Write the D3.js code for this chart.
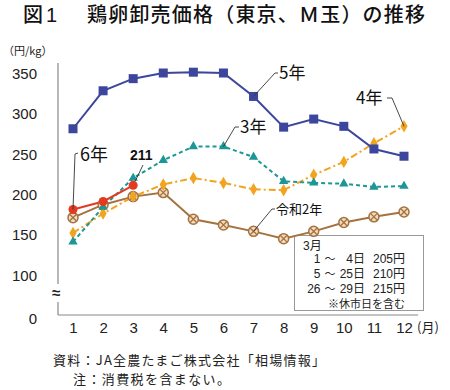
<!DOCTYPE html>
<html><head><meta charset="utf-8">
<script src="https://cdn.jsdelivr.net/npm/d3@7"></script>
<style>
body{margin:0;background:#fff;}
svg{font-family:"Liberation Sans","Noto Sans CJK JP",sans-serif;}
</style></head>
<body><svg id="c" width="450" height="390"></svg>
<script>
const months = [1,2,3,4,5,6,7,8,9,10,11,12];
const yTicks = [0,100,150,200,250,300,350];
const r2 = [171,187,197,202,169,162,154,145,154,165,172,178];
const r3 = [141,184,220,242,259,259,246,216,214,213,209,210];
const r4 = [152,176,197,212,220,214,206,205,224,240,263,284];
const r5 = [281,328,343,350,351,350,321,283,293,284,256,247];
const r6 = [181,191,211];
const boxLines = [["1","～","4日","205円"],["5","～","25日","210円"],["26","～","29日","215円"]];

const svg = d3.select("#c");
const x = d3.scaleLinear().domain([1,12]).range([73,404]);
const y = d3.scaleLinear().domain([0,100,350]).range([315,275,73]);

// title
svg.append("text").attr("x",23).attr("y",22).attr("font-size",20).attr("font-weight",500)
  .attr("font-family","Noto Sans CJK JP").attr("fill","#111").text("図");
svg.append("text").attr("x",46).attr("y",22).attr("font-size",20).attr("font-weight",500)
  .attr("font-family","Liberation Sans").attr("fill","#111").text("1");
svg.append("text").attr("x",87).attr("y",22).attr("font-size",20).attr("font-weight",500)
  .attr("font-family","Noto Sans CJK JP").attr("fill","#111").attr("textLength",338)
  .text("鶏卵卸売価格（東京、Ｍ玉）の推移");
svg.append("text").attr("x",3).attr("y",55).attr("font-size",11).attr("font-family","Noto Sans CJK JP").attr("fill","#222").text("（円/kg）");

// axes
const axC = "#888";
const ya = svg.append("g").attr("transform","translate(58,0)")
  .call(d3.axisLeft(y).tickValues(yTicks).tickSize(0).tickPadding(21));
ya.select(".domain").remove();
ya.selectAll("text").attr("font-size",15).attr("fill","#222").attr("font-family","Liberation Sans").attr("dy","0.35em");
ya.selectAll(".tick").filter(d=>d===0).select("text").attr("dy","0.55em");
svg.append("line").attr("x1",58).attr("x2",58).attr("y1",63).attr("y2",284).attr("stroke",axC).attr("stroke-width",1.2);
svg.append("line").attr("x1",58).attr("x2",58).attr("y1",302).attr("y2",315).attr("stroke",axC).attr("stroke-width",1.2);
svg.append("text").attr("x",56).attr("y",298).attr("text-anchor","middle").attr("font-size",15).attr("font-weight","bold").attr("fill","#222").text("≈");

const xa = svg.append("g").attr("transform","translate(0,315)")
  .call(d3.axisBottom(x).tickValues(months).tickSize(0).tickPadding(7).tickFormat(d3.format("d")));
xa.select(".domain").remove();
xa.selectAll("text").attr("font-size",15).attr("fill","#222").attr("font-family","Liberation Sans");
svg.append("line").attr("x1",58).attr("x2",418).attr("y1",315).attr("y2",315).attr("stroke",axC).attr("stroke-width",1.2);
svg.append("text").attr("x",417).attr("y",332).attr("font-size",13).attr("font-family","Noto Sans CJK JP").attr("fill","#222").text("(月)");

// note box
const bx = svg.append("g");
bx.append("rect").attr("x",294.5).attr("y",235.5).attr("width",129).attr("height",75).attr("fill","#fff").attr("stroke","#999");
function t(g,xx,yy,s,anchor,fs){return g.append("text").attr("x",xx).attr("y",yy).attr("text-anchor",anchor||"start")
  .attr("font-size",fs||12).attr("fill","#222").text(s);}
t(bx,303,250,"3月");
const colX=[320.5,330,365,405];
boxLines.forEach((row,i)=>{
  const yy = 263 + i*15;
  t(bx,colX[0],yy,row[0],"end");
  t(bx,colX[1],yy,row[1],"middle",11);
  t(bx,colX[2],yy,row[2],"end");
  t(bx,colX[3],yy,row[3],"end");
});
t(bx,405,308,"※休市日を含む","end",11);

// lines
const line = d3.line().x((d,i)=>x(months[i])).y(d=>y(d));
function series(data,color,dash){
  svg.append("path").datum(data).attr("d",line).attr("fill","none").attr("stroke",color).attr("stroke-width",2)
    .attr("stroke-dasharray",dash||null);
}
const cR2="#A5723F", cR3="#1C9696", cR4="#F2A41E", cR5="#3C469C", cR6="#E23B22";
series(r2,cR2);
series(r4,cR4,"7,3,2,3");
series(r3,cR3,"4,3");
series(r5,cR5);
series(r6,cR6);

// markers
svg.append("g").selectAll("g").data(r2).join("g").attr("transform",(d,i)=>`translate(${x(months[i])},${y(d)})`)
  .each(function(){
    const g=d3.select(this);
    g.append("circle").attr("r",5).attr("fill","#F3DCC0").attr("stroke",cR2).attr("stroke-width",1.5);
    g.append("path").attr("d","M-3.2,-3.2L3.2,3.2M-3.2,3.2L3.2,-3.2").attr("stroke",cR2).attr("stroke-width",1.3);
  });
svg.append("g").selectAll("path").data(r4).join("path").attr("transform",(d,i)=>`translate(${x(months[i])},${y(d)})`)
  .attr("d",d3.symbol(d3.symbolDiamond,45)).attr("fill",cR4);
svg.append("g").selectAll("path").data(r3).join("path").attr("transform",(d,i)=>`translate(${x(months[i])},${y(d)})`)
  .attr("d",d3.symbol(d3.symbolTriangle,38)).attr("fill",cR3);
svg.append("g").selectAll("rect").data(r5).join("rect").attr("x",(d,i)=>x(months[i])-4.5).attr("y",d=>y(d)-4.5)
  .attr("width",9).attr("height",9).attr("fill",cR5);
svg.append("g").selectAll("circle").data(r6).join("circle").attr("cx",(d,i)=>x(months[i])).attr("cy",d=>y(d))
  .attr("r",4.5).attr("fill",cR6);

// labels with leaders
const lc="#333";
function leader(pts){svg.append("path").attr("d",d3.line()(pts)).attr("fill","none").attr("stroke",lc).attr("stroke-width",0.9);}
function lab(xx,yy,s,fs,extra){const e=svg.append("text").attr("x",xx).attr("y",yy).attr("font-size",fs).attr("fill","#111").attr("font-family","Noto Sans CJK JP").text(s);if(extra)extra(e);return e;}
leader([[x(7),y(r5[6])],[275,73],[278,73]]);
lab(279,79,"5年",17);
leader([[x(12),y(r4[11])],[392,98],[387,98]]);
lab(356,104,"4年",17);
leader([[x(6),y(r3[5])],[235,127],[239,127]]);
lab(240,133,"3年",17);
leader([[x(7),y(r2[6])],[272,209],[275,209]]);
lab(276,214,"令和2年",13);
leader([[x(1),y(r6[0])],[75,154],[78,153]]);
lab(80,161,"6年",18);
leader([[x(3)+2,y(r6[2])-4],[143,165]]);
lab(130,160,"211",14,e=>e.attr("font-weight","bold").attr("font-family","Liberation Sans"));

// footer
svg.append("text").attr("x",53).attr("y",365).attr("font-size",13).attr("textLength",272).attr("font-family","Noto Sans CJK JP").attr("fill","#222").text("資料：JA全農たまご株式会社「相場情報」");
svg.append("text").attr("x",73).attr("y",384).attr("font-size",13).attr("textLength",157).attr("font-family","Noto Sans CJK JP").attr("fill","#222").text("注：消費税を含まない。");
</script></body></html>
